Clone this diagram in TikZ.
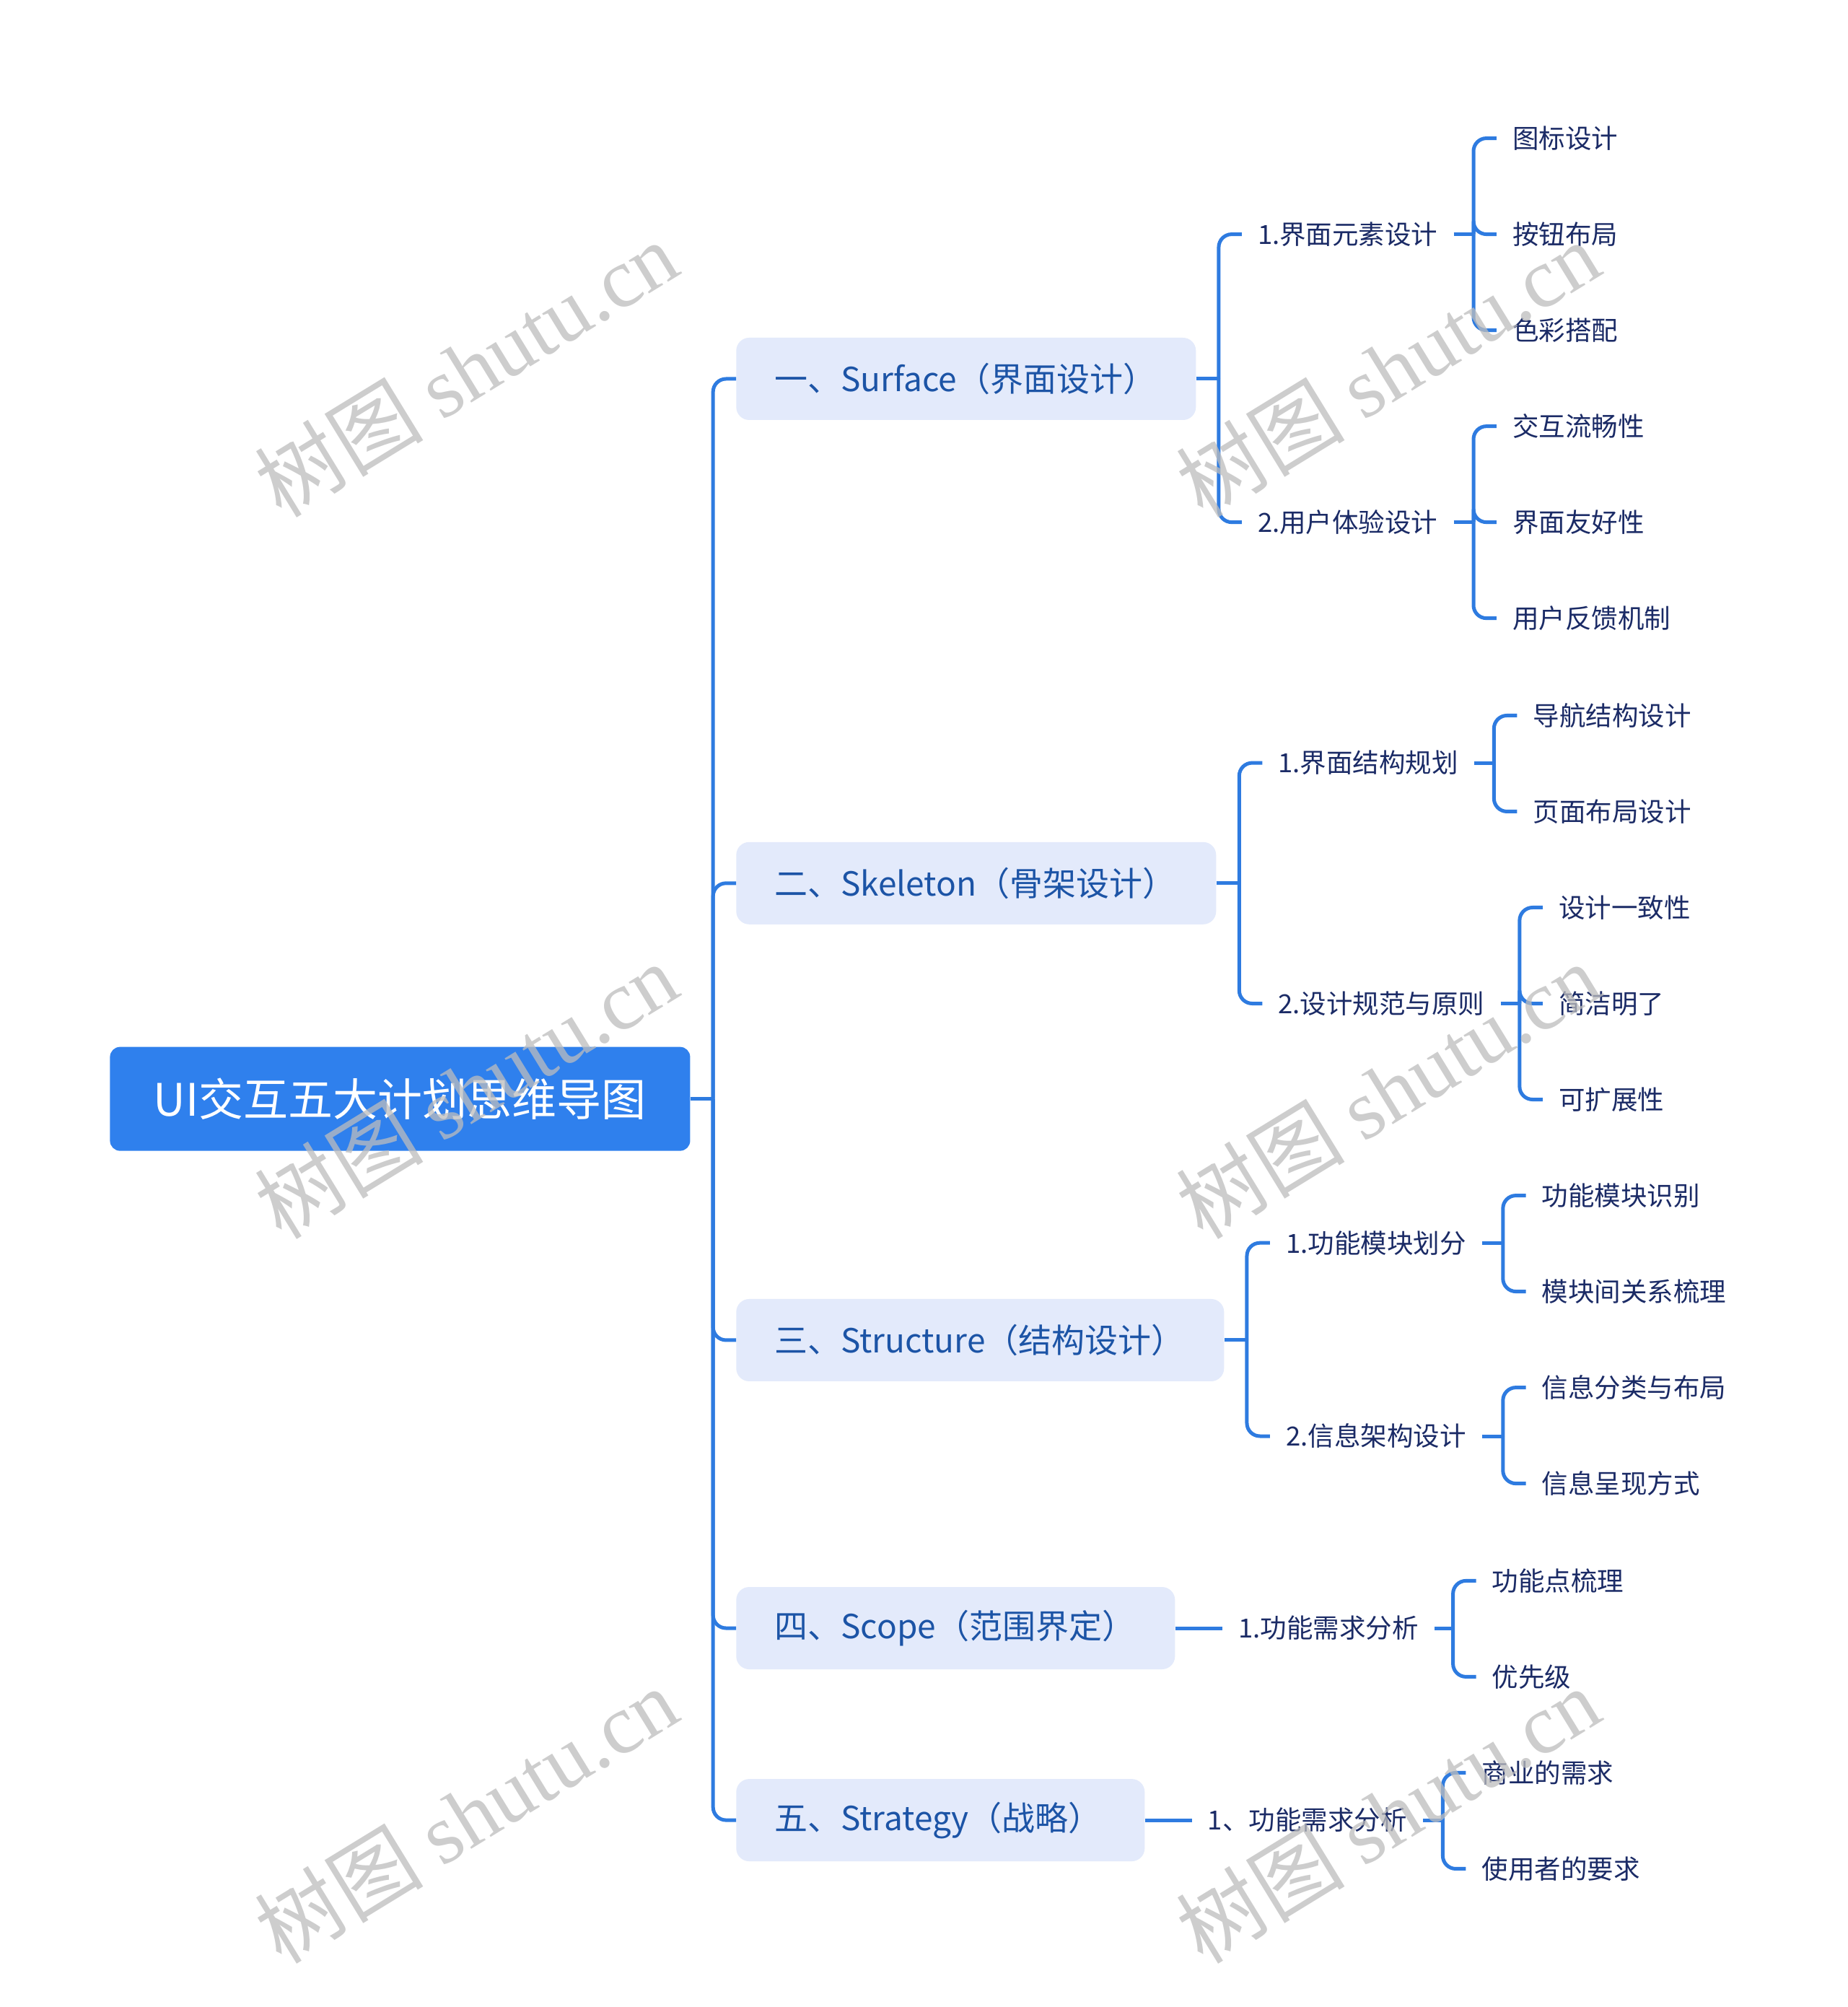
\documentclass[tikz,border=0pt]{standalone}
\usepackage{fontspec}
\setmainfont{Noto Sans CJK SC}
\newfontfamily\wmlat{Liberation Serif}
\usetikzlibrary{calc}
\definecolor{rootblue}{HTML}{2F80ED}
\definecolor{lonefill}{HTML}{E3EAFB}
\definecolor{lonetext}{HTML}{1C54A6}
\definecolor{ltwotext}{HTML}{1B2B66}
\definecolor{linec}{HTML}{2E7BE0}
\definecolor{wmgray}{HTML}{BDBDBD}
\begin{document}
\begin{tikzpicture}[x=1.7741pt,y=-1.7736pt,
 rootnode/.style={fill=rootblue, rounded corners=14pt, text=white, font=\fontsize{62}{74}\selectfont, minimum width=804pt, minimum height=144pt, inner sep=0pt},
 lonenode/.style={anchor=west, fill=lonefill, rounded corners=18pt, text=lonetext, font=\fontsize{46}{55}\selectfont, minimum height=114pt, inner xsep=53pt, inner ysep=0pt},
 ltwonode/.style={anchor=west, text=ltwotext, font=\fontsize{36.5}{44}\selectfont, inner xsep=22pt, inner ysep=4pt},
 leafnode/.style={ltwonode},
 conn/.style={draw=linec, line width=5pt},
 rc/.style={rounded corners=18pt},
 wm/.style={text=wmgray, text opacity=0.75, rotate=31.5, font=\fontsize{117}{140}\selectfont}]

\useasboundingbox[fill=white] (0,0) rectangle (1443,1568);

% root
\node[rootnode] (root) at (312.5,858.5) {UI交互五大计划思维导图};

% level 1
\node[lonenode] (sur) at (575,296) {\makebox[531pt][l]{一、Surface（界面设计）}};
\node[lonenode] (ske) at (575,690) {\makebox[559pt][l]{二、Skeleton（骨架设计）}};
\node[lonenode] (str) at (575,1047) {\makebox[570pt][l]{三、Structure（结构设计）}};
\node[lonenode] (sco) at (575,1272) {\makebox[502pt][l]{四、Scope（范围界定）}};
\node[lonenode] (stg) at (575,1422) {\makebox[460pt][l]{五、Strategy（战略）}};

% level 2
\node[ltwonode] (s1) at (970,183) {1.界面元素设计};
\node[ltwonode] (s2) at (970,408) {2.用户体验设计};
\node[ltwonode] (k1) at (986,596) {1.界面结构规划};
\node[ltwonode] (k2) at (986,784) {2.设计规范与原则};
\node[ltwonode] (t1) at (992,971) {1.功能模块划分};
\node[ltwonode] (t2) at (992,1122) {2.信息架构设计};
\node[ltwonode] (p1) at (955,1272) {1.功能需求分析};
\node[ltwonode] (g1) at (931,1422) {1、功能需求分析};

% leaves
\node[leafnode] (s1a) at (1169,108) {图标设计};
\node[leafnode] (s1b) at (1169,183) {按钮布局};
\node[leafnode] (s1c) at (1169,258) {色彩搭配};
\node[leafnode] (s2a) at (1169,333) {交互流畅性};
\node[leafnode] (s2b) at (1169,408) {界面友好性};
\node[leafnode] (s2c) at (1169,483) {用户反馈机制};
\node[leafnode] (k1a) at (1185,559) {导航结构设计};
\node[leafnode] (k1b) at (1185,634) {页面布局设计};
\node[leafnode] (k2a) at (1205,709) {设计一致性};
\node[leafnode] (k2b) at (1205,784) {简洁明了};
\node[leafnode] (k2c) at (1205,859) {可扩展性};
\node[leafnode] (t1a) at (1192,934) {功能模块识别};
\node[leafnode] (t1b) at (1192,1009) {模块间关系梳理};
\node[leafnode] (t2a) at (1192,1084) {信息分类与布局};
\node[leafnode] (t2b) at (1192,1159) {信息呈现方式};
\node[leafnode] (p1a) at (1153,1235) {功能点梳理};
\node[leafnode] (p1b) at (1153,1310) {优先级};
\node[leafnode] (g1a) at (1145,1385) {商业的需求};
\node[leafnode] (g1b) at (1145,1460) {使用者的要求};

% bracket x positions
\coordinate (bR) at (557,0);
\coordinate (bSur) at (952,0);
\coordinate (bSke) at (968,0);
\coordinate (bStr) at (974,0);
\coordinate (bS1) at (1151,0);
\coordinate (bS2) at (1151,0);
\coordinate (bK1) at (1167,0);
\coordinate (bK2) at (1187,0);
\coordinate (bT1) at (1174,0);
\coordinate (bT2) at (1174,0);
\coordinate (bP1) at (1135,0);
\coordinate (bG1) at (1127,0);

% root -> level 1
\draw[conn] (root.east) -- (root.east -| bR);
\foreach \c in {sur,ske,str,sco,stg}
  \draw[conn,rc] (root.east -| bR) |- (\c.west);

% level 1 -> level 2
\draw[conn] (sur.east) -- (sur.east -| bSur);
\foreach \c in {s1,s2} \draw[conn,rc] (sur.east -| bSur) |- (\c.west);
\draw[conn] (ske.east) -- (ske.east -| bSke);
\foreach \c in {k1,k2} \draw[conn,rc] (ske.east -| bSke) |- (\c.west);
\draw[conn] (str.east) -- (str.east -| bStr);
\foreach \c in {t1,t2} \draw[conn,rc] (str.east -| bStr) |- (\c.west);
\draw[conn] (sco.east) -- (p1.west);
\draw[conn] (stg.east) -- (g1.west);

% level 2 -> leaves
\draw[conn] (s1.east) -- (s1.east -| bS1);
\foreach \c in {s1a,s1b,s1c} \draw[conn,rc] (s1.east -| bS1) |- (\c.west);
\draw[conn] (s2.east) -- (s2.east -| bS2);
\foreach \c in {s2a,s2b,s2c} \draw[conn,rc] (s2.east -| bS2) |- (\c.west);
\draw[conn] (k1.east) -- (k1.east -| bK1);
\foreach \c in {k1a,k1b} \draw[conn,rc] (k1.east -| bK1) |- (\c.west);
\draw[conn] (k2.east) -- (k2.east -| bK2);
\foreach \c in {k2a,k2b,k2c} \draw[conn,rc] (k2.east -| bK2) |- (\c.west);
\draw[conn] (t1.east) -- (t1.east -| bT1);
\foreach \c in {t1a,t1b} \draw[conn,rc] (t1.east -| bT1) |- (\c.west);
\draw[conn] (t2.east) -- (t2.east -| bT2);
\foreach \c in {t2a,t2b} \draw[conn,rc] (t2.east -| bT2) |- (\c.west);
\draw[conn] (p1.east) -- (p1.east -| bP1);
\foreach \c in {p1a,p1b} \draw[conn,rc] (p1.east -| bP1) |- (\c.west);
\draw[conn] (g1.east) -- (g1.east -| bG1);
\foreach \c in {g1a,g1b} \draw[conn,rc] (g1.east -| bG1) |- (\c.west);

% watermarks
\node[wm] (wm1) at (364,288) {树图 {\wmlat shutu.cn}};
\node[wm] (wm2) at (1084,288) {树图 {\wmlat shutu.cn}};
\node[wm] (wm3) at (364,852) {树图 {\wmlat shutu.cn}};
\node[wm] (wm4) at (1084,852) {树图 {\wmlat shutu.cn}};
\node[wm] (wm5) at (364,1418) {树图 {\wmlat shutu.cn}};
\node[wm] (wm6) at (1084,1418) {树图 {\wmlat shutu.cn}};
\end{tikzpicture}
\end{document}
